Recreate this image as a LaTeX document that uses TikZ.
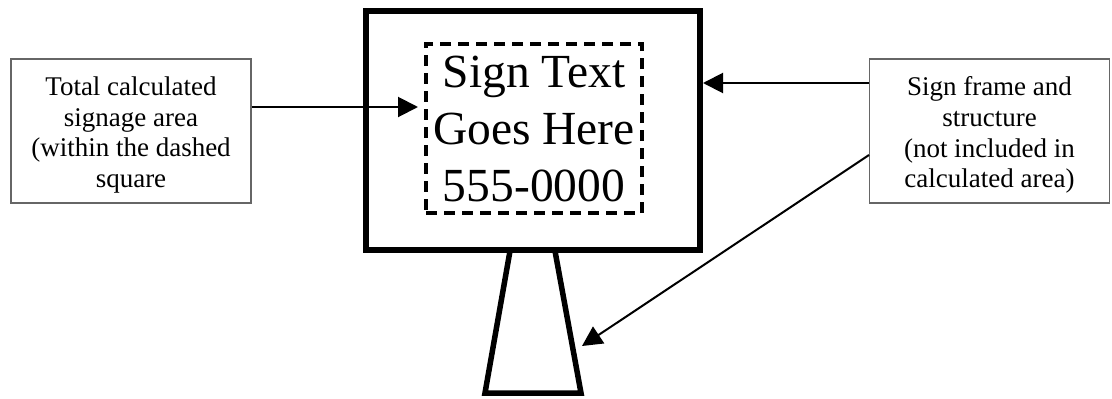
\documentclass[tikz,border=0pt]{standalone}
\usepackage{fontspec}
\setmainfont{Liberation Serif}
\usetikzlibrary{arrows.meta}
\begin{document}
\begin{tikzpicture}[x=1pt,y=-1pt,
  label box/.style={draw=black!60,line width=1.3pt,minimum width=240pt,minimum height=144pt,inner sep=0pt},
  label text/.style={align=center,inner sep=0pt,font=\fontsize{27}{30.8}\selectfont},
  pointer/.style={line width=2pt,-{Triangle[length=20pt,width=20pt]}},
  heavy/.style={line width=5.5pt,line join=miter}]
\useasboundingbox (0,0) rectangle (1112,399);
% label boxes
\node[label box] (lbox) at (131,131) {};
\node[label text] (ltext) at (131,135) {Total calculated\\signage area\\(within the dashed\\square};
\node[label box] (rbox) at (989.5,131) {};
\node[label text] (rtext) at (989.5,135) {Sign frame and\\structure\\(not included in\\calculated area)};
% sign frame
\node[draw,heavy,minimum width=334pt,minimum height=239pt,inner sep=0pt] (frame) at (533,130.5) {};
% dashed area
\node[draw,line width=3.5pt,dash pattern=on 11pt off 7pt,minimum width=216pt,minimum height=169pt,inner sep=0pt] (area) at (534,128.5) {};
\node[align=center,inner sep=0pt,font=\fontsize{47.5}{57}\selectfont] (signtext) at (534,129) {Sign Text\\Goes Here\\555-0000};
% post
\draw[heavy] (510,251) -- (485,393) -- (581,393) -- (555,251);
% pointers
\coordinate (areatip) at (418,107);
\coordinate (frametip) at (703,83);
\coordinate (posttip) at (582,346);
\draw[pointer] (lbox.east |- areatip) -- (areatip);
\draw[pointer] (rbox.west |- frametip) -- (frametip);
\draw[pointer] (869,155) -- (posttip);
\end{tikzpicture}
\end{document}
